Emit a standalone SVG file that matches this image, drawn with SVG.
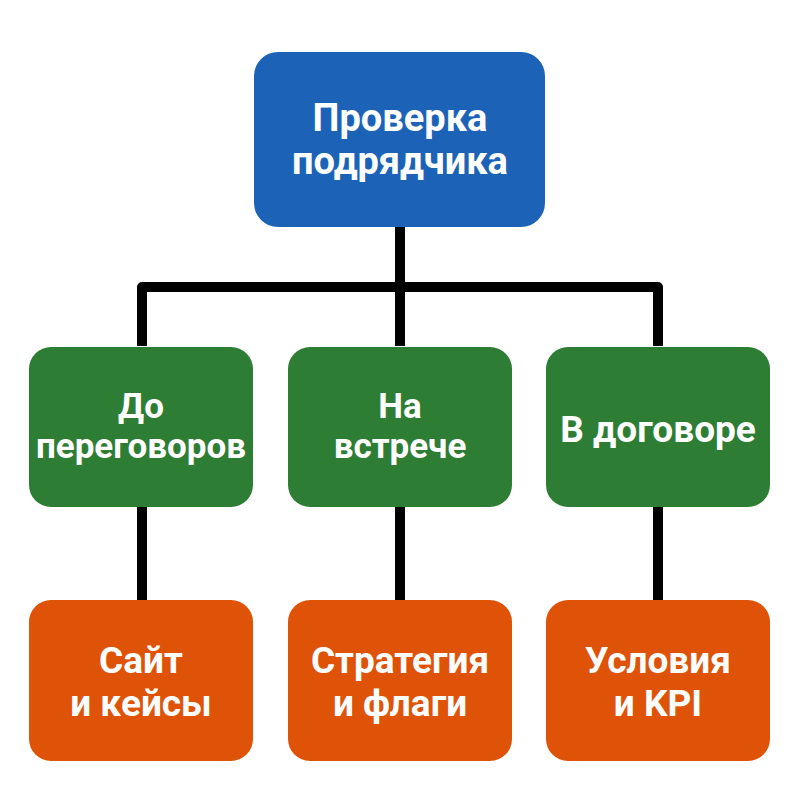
<svg xmlns="http://www.w3.org/2000/svg" width="800" height="800" viewBox="0 0 800 800">
<style>
.box{stroke:none}
.blue{fill:#1c63b8}
.green{fill:#2e7d34}
.orange{fill:#df5309}
.t{font-family:Roboto,"Liberation Sans",sans-serif;font-weight:bold;fill:#fff;text-anchor:middle}
.t1{font-size:38px}
.t2{font-size:35px}
.t3{font-size:37px}
.edge{stroke:#000;stroke-width:10;fill:none;stroke-linejoin:round}
</style>
<rect width="800" height="800" fill="#fff"/>
<g id="connectors">
<path class="edge" d="M400 226 V287 M142 346 V287 H658 V346 M400 287 V346"/>
<path class="edge" d="M142 506 V600 M400 506 V600 M658 506 V600"/>
</g>
<g id="root">
<rect class="box blue" x="254" y="52" width="291" height="175" rx="24"/>
<text class="t t1" x="400" y="131">Проверка</text>
<text class="t t1" x="400" y="174">подрядчика</text>
</g>
<g id="pre">
<rect class="box green" x="29" y="347" width="224" height="160" rx="22"/>
<text class="t t2" x="141" y="418">До</text>
<text class="t t2" x="141" y="458">переговоров</text>
</g>
<g id="meet">
<rect class="box green" x="288" y="347" width="224" height="160" rx="22"/>
<text class="t t2" x="400" y="418">На</text>
<text class="t t2" x="400" y="458">встрече</text>
</g>
<g id="contract">
<rect class="box green" x="546" y="347" width="224" height="160" rx="22"/>
<text class="t t3" x="658" y="442">В договоре</text>
</g>
<g id="site">
<rect class="box orange" x="29" y="600" width="224" height="161" rx="22"/>
<text class="t t3" x="141" y="673">Сайт</text>
<text class="t t3" x="141" y="716">и кейсы</text>
</g>
<g id="strategy">
<rect class="box orange" x="288" y="600" width="224" height="161" rx="22"/>
<text class="t t3" x="400" y="673">Стратегия</text>
<text class="t t3" x="400" y="716">и флаги</text>
</g>
<g id="terms">
<rect class="box orange" x="546" y="600" width="224" height="161" rx="22"/>
<text class="t t3" x="658" y="673">Условия</text>
<text class="t t3" x="658" y="716">и KPI</text>
</g>
</svg>
